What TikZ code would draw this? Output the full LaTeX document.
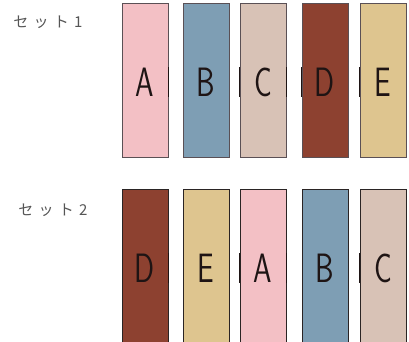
\documentclass[tikz,border=0pt]{standalone}
\usepackage{fontspec}
\setmainfont{Noto Sans CJK JP}
\usepackage{xcolor}
\usepackage{tikz}
\definecolor{ink}{HTML}{1E1414}
\definecolor{muted}{HTML}{555555}
\definecolor{edgeone}{HTML}{5A5055}
\definecolor{edgetwo}{HTML}{2A2424}
\definecolor{rose}{HTML}{F3C0C5}
\definecolor{steel}{HTML}{7E9EB4}
\definecolor{sand}{HTML}{D8C2B6}
\definecolor{rust}{HTML}{8D4130}
\definecolor{wheat}{HTML}{DEC58F}
\newcommand{\slim}[1]{\scalebox{0.72}[1]{#1}}
\tikzset{
  card/.style={line width=0.8pt, minimum width=46pt, minimum height=154pt, inner sep=0pt},
  letter/.style={text=ink, font=\sffamily\fontsize{41}{41}\selectfont, inner sep=0pt},
  setlab/.style={text=muted, font=\fontsize{15}{15}\selectfont\addfontfeature{LetterSpace=35}, inner sep=0pt},
  tick/.style={draw=ink, line width=1.3pt},
}

\begin{document}
\begin{tikzpicture}[x=1pt,y=-1pt]
  \useasboundingbox (0,0) rectangle (409,341);
  \clip (0,0) rectangle (409,341);

  \node[setlab] (lone) at (48,22) {セット1};
  \node[setlab] (ltwo) at (53,210) {セット2};

  \node[card,draw=edgeone,fill=rose]  (a1) at (145,80) {};
  \node[card,draw=edgeone,fill=steel] (b1) at (206,80) {};
  \node[card,draw=edgeone,fill=sand]  (c1) at (263,80) {};
  \node[card,draw=edgeone,fill=rust]  (d1) at (325,80) {};
  \node[card,draw=edgeone,fill=wheat] (e1) at (383,80) {};

  \node[card,draw=edgetwo,fill=rust]  (d2) at (145,266) {};
  \node[card,draw=edgetwo,fill=wheat] (e2) at (206,266) {};
  \node[card,draw=edgetwo,fill=rose]  (a2) at (263,266) {};
  \node[card,draw=edgetwo,fill=steel] (b2) at (325,266) {};
  \node[card,draw=edgetwo,fill=sand]  (c2) at (383,266) {};

  \node[letter] (ta1) at (145,82) {\slim{A}};
  \node[letter] (tb1) at (206,82) {\slim{B}};
  \node[letter] (tc1) at (263,82) {\slim{C}};
  \node[letter] (td1) at (325,82) {\slim{D}};
  \node[letter] (te1) at (383,82) {\slim{E}};

  \node[letter] (td2) at (145,268) {\slim{D}};
  \node[letter] (te2) at (206,268) {\slim{E}};
  \node[letter] (ta2) at (263,268) {\slim{A}};
  \node[letter] (tb2) at (325,268) {\slim{B}};
  \node[letter] (tc2) at (383,268) {\slim{C}};

  \draw[tick] ([yshift=13pt]a1.east) -- ([yshift=-17pt]a1.east);
  \draw[tick] ([yshift=13pt]c1.west) -- ([yshift=-17pt]c1.west);
  \draw[tick] ([yshift=13pt]c1.east) -- ([yshift=-17pt]c1.east);
  \draw[tick] ([yshift=13pt]d1.west) -- ([yshift=-17pt]d1.west);
  \draw[tick] ([yshift=13pt]e1.west) -- ([yshift=-17pt]e1.west);

  \draw[tick] ([yshift=13pt]d2.east) -- ([yshift=-17pt]d2.east);
  \draw[tick] ([yshift=13pt]a2.west) -- ([yshift=-17pt]a2.west);
  \draw[tick] ([yshift=13pt]a2.east) -- ([yshift=-17pt]a2.east);
  \draw[tick] ([yshift=13pt]c2.west) -- ([yshift=-17pt]c2.west);
\end{tikzpicture}
\end{document}
